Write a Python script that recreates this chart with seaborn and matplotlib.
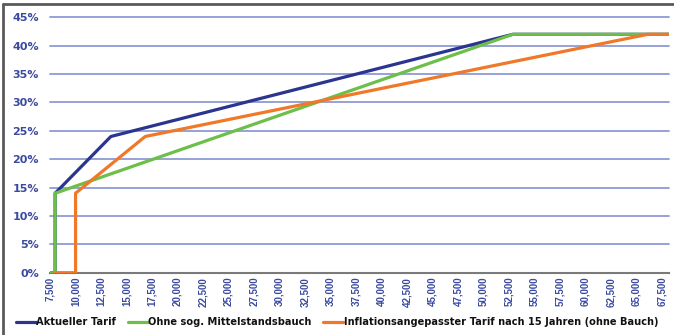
import numpy as np
import pandas as pd
import matplotlib
matplotlib.use("Agg")
import matplotlib.pyplot as plt
from matplotlib.lines import Line2D
from matplotlib.ticker import FuncFormatter
import seaborn as sns

# Taxable income (EUR) and marginal tax rate (%) at the tariff breakpoints
income_current = [7500, 8004, 8004, 13469, 52881, 68200]
rate_current = [0, 0, 14, 24, 42, 42]

income_no_belly = [7500, 8004, 8004, 52881, 68200]
rate_no_belly = [0, 0, 14, 42, 42]

income_inflation = [8004, 10006, 10006, 16839, 66112, 68200]
rate_inflation = [0, 0, 14, 24, 42, 42]

series_names = [
    "Aktueller Tarif",
    "Ohne sog. Mittelstandsbauch",
    "Inflationsangepasster Tarif nach 15 Jahren (ohne Bauch)",
]
series_colors = ["#2b3590", "#6cbf48", "#f07828"]

x_ticks = list(range(7500, 67501, 2500))
y_ticks = list(range(0, 46, 5))

frames = []
for name, xs, ys in zip(series_names,
                        [income_current, income_no_belly, income_inflation],
                        [rate_current, rate_no_belly, rate_inflation]):
    frames.append(pd.DataFrame({"Einkommen": xs, "Grenzsteuersatz": ys,
                                "Tarif": name, "order": range(len(xs))}))
df = pd.concat(frames, ignore_index=True)

sns.set_theme(style="white")
W, H = 674, 335
fig = plt.figure(figsize=(W / 100, H / 100), dpi=100)
fig.patch.set_facecolor("white")

left, right, top, bottom = 50, 669, 17.3, 272.7
ax = fig.add_axes([left / W, 1 - bottom / H, (right - left) / W, (bottom - top) / H])

tick_blue = "#3a4a9f"

for name, color in zip(series_names, series_colors):
    sub = df[df["Tarif"] == name]
    sns.lineplot(data=sub, x="Einkommen", y="Grenzsteuersatz", ax=ax,
                 color=color, linewidth=2.3, estimator=None, sort=False,
                 legend=False, zorder=3)

ax.set_xlim(7500, 68200)
ax.set_ylim(0, 45)
ax.set_yticks(y_ticks)
ax.set_xticks(x_ticks)
ax.yaxis.set_major_formatter(FuncFormatter(lambda v, p: f"{v:.0f}%"))
ax.xaxis.set_major_formatter(FuncFormatter(lambda v, p: f"{v:,.0f}"))

for yv in y_ticks[1:]:
    ax.axhline(yv, color="#8d9bd3", linewidth=1.3, zorder=1, clip_on=False)

for s in ["top", "right", "left"]:
    ax.spines[s].set_visible(False)
ax.spines["bottom"].set_color("#7a7a7a")
ax.spines["bottom"].set_linewidth(1.5)
ax.tick_params(axis="both", length=0)
ax.tick_params(axis="y", pad=8)
ax.tick_params(axis="x", pad=3)

for lbl in ax.get_yticklabels():
    lbl.set_fontfamily("DejaVu Sans")
    lbl.set_fontweight("bold")
    lbl.set_fontsize(8)
    lbl.set_color(tick_blue)
for lbl in ax.get_xticklabels():
    lbl.set_fontfamily("Liberation Sans")
    lbl.set_fontweight("bold")
    lbl.set_fontsize(7)
    lbl.set_color(tick_blue)
    lbl.set_rotation(90)

ax.set_xlabel("")
ax.set_ylabel("")

handles = [Line2D([0], [0], color=c, linewidth=2.3) for c in series_colors]
leg = fig.legend(handles, series_names, loc="center left",
                 bbox_to_anchor=(16 / W, 1 - 322 / H), ncol=3, frameon=False,
                 handlelength=2.0, handletextpad=0.05, columnspacing=1.2,
                 borderpad=0, borderaxespad=0,
                 prop={"family": "DejaVu Sans", "weight": "bold", "size": 7.1})
for t in leg.get_texts():
    t.set_color("#111111")

# outer frame (top and left edges)
fig.add_artist(Line2D([3 / W, 1], [1 - 4 / H, 1 - 4 / H], transform=fig.transFigure,
                      color="#5a5a5a", linewidth=2))
fig.add_artist(Line2D([3 / W, 3 / W], [0, 1 - 4 / H], transform=fig.transFigure,
                      color="#5a5a5a", linewidth=2))

fig.savefig("out.png", dpi=100, facecolor="white")
